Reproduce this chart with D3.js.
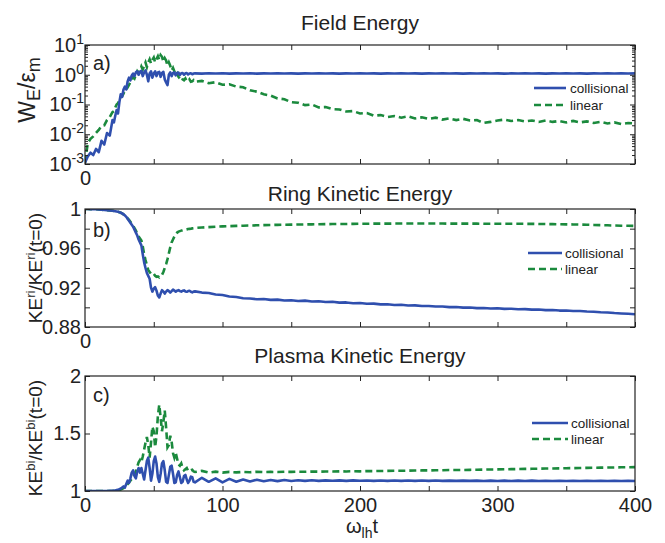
<!DOCTYPE html>
<html>
<head>
<meta charset="utf-8">
<script src="https://cdn.jsdelivr.net/npm/d3@7"></script>
<style>
  html, body { margin: 0; padding: 0; background: #fff; }
  svg { display: block; font-family: "Liberation Sans", Arial, Helvetica, sans-serif; }
</style>
</head>
<body>
<svg id="chart" width="665" height="543"></svg>
<script>
// Simulation time, in units of the lower-hybrid period (omega_lh t)
const time = [0,2,4,6,8,10,12,14,16,18,20,
  21,22,23,24,25,26,27,28,29,30,31,32,33,34,35,36,37,38,39,40,
  41,42,43,44,45,46,47,48,49,50,51,52,53,54,55,56,57,58,59,60,
  61,62,63,64,65,66,67,68,69,70,71,72,73,74,75,76,77,78,79,80,
  85,90,95,100,105,110,115,120,125,130,135,140,145,150,155,160,165,170,175,180,
  185,190,195,200,205,210,215,220,225,230,235,240,245,250,255,260,265,270,275,280,
  285,290,295,300,305,310,315,320,325,330,335,340,345,350,355,360,365,370,375,380,
  385,390,395,400];

// a) field energy W_E / eps_m
const fieldCollisional = [0.0011,0.0018,0.0024,0.0020,0.0032,0.0025,0.0060,0.0045,0.0110,0.0090,0.0300,
  0.025,0.042,0.065,0.050,0.12,0.22,0.18,0.32,0.40,0.32,
  0.60,0.80,0.65,0.95,1.10,0.90,1.20,1.30,1.00,1.25,
  1.35,0.90,1.20,1.40,1.00,0.60,1.10,1.30,0.80,1.10,
  1.30,0.90,1.20,1.25,0.85,1.15,1.25,0.70,0.55,0.45,
  1.00,1.20,0.90,1.15,1.20,0.95,1.15,1.18,0.98,1.12,
  1.15,1.00,1.12,1.14,1.02,1.10,1.12,1.04,1.10,1.11,
  1.09,1.12,1.10,1.12,1.09,1.11,1.10,1.12,1.09,1.11,
  1.10,1.12,1.10,1.11,1.09,1.11,1.10,1.12,1.10,1.11,
  1.09,1.11,1.10,1.12,1.10,1.11,1.09,1.11,1.10,1.12,
  1.10,1.11,1.09,1.11,1.10,1.12,1.10,1.11,1.09,1.11,
  1.10,1.12,1.10,1.11,1.09,1.11,1.10,1.12,1.10,1.11,
  1.09,1.11,1.10,1.12,1.10,1.11,1.09,1.11,1.10,1.11,
  1.10,1.11,1.10,1.11];
const fieldLinear = [0.0011,0.0050,0.0070,0.0085,0.0110,0.0140,0.0190,0.0200,0.0300,0.0380,0.0550,
  0.060,0.080,0.100,0.110,0.140,0.170,0.190,0.230,0.300,0.320,
  0.380,0.460,0.550,0.680,0.850,0.750,1.000,1.300,1.100,1.400,
  1.900,1.500,2.000,2.600,1.800,2.600,3.300,2.400,3.200,3.800,
  2.600,3.400,4.200,3.200,4.600,4.000,2.800,3.600,3.000,2.000,
  2.600,2.000,1.400,1.700,1.300,0.950,1.100,0.850,0.750,0.850,
  0.700,0.650,0.750,0.620,0.600,0.700,0.580,0.600,0.660,0.580,
  0.62,0.52,0.56,0.46,0.48,0.40,0.38,0.30,0.27,0.22,
  0.20,0.16,0.15,0.12,0.115,0.095,0.10,0.08,0.082,0.07,
  0.068,0.058,0.06,0.05,0.052,0.042,0.044,0.038,0.041,0.036,
  0.04,0.034,0.037,0.033,0.036,0.031,0.034,0.030,0.033,0.029,
  0.030,0.024,0.026,0.029,0.031,0.028,0.030,0.027,0.029,0.026,
  0.029,0.026,0.028,0.025,0.028,0.025,0.027,0.024,0.026,0.023,
  0.025,0.022,0.024,0.023];

// b) ring ion kinetic energy, normalised to t = 0
const ringCollisional = [1.0000,1.0000,0.9999,0.9998,0.9997,0.9995,0.9993,0.9990,0.9988,0.9985,0.9982,
  0.9980,0.9978,0.9975,0.9972,0.9968,0.9962,0.9955,0.9945,0.9935,0.9920,
  0.9900,0.9880,0.9860,0.9840,0.9820,0.9790,0.9760,0.9730,0.9690,0.9660,
  0.9630,0.9540,0.9460,0.9400,0.9350,0.9320,0.9290,0.9200,0.9160,0.9190,
  0.9205,0.9170,0.9120,0.9100,0.9140,0.9175,0.9160,0.9140,0.9160,0.9175,
  0.9165,0.9150,0.9165,0.9180,0.9170,0.9160,0.9170,0.9175,0.9165,0.9160,
  0.9168,0.9172,0.9162,0.9158,0.9166,0.9168,0.9158,0.9152,0.9160,0.9162,
  0.9150,0.9145,0.9130,0.9125,0.9110,0.9105,0.9092,0.9090,0.9082,0.9084,
  0.9076,0.9078,0.9070,0.9072,0.9065,0.9068,0.9060,0.9062,0.9055,0.9056,
  0.9048,0.9050,0.9042,0.9044,0.9036,0.9038,0.9030,0.9031,0.9024,0.9026,
  0.9018,0.9020,0.9013,0.9014,0.9008,0.9009,0.9002,0.9003,0.8997,0.8998,
  0.8992,0.8993,0.8988,0.8990,0.8984,0.8986,0.8980,0.8982,0.8977,0.8978,
  0.8972,0.8973,0.8967,0.8968,0.8962,0.8963,0.8958,0.8955,0.8950,0.8948,
  0.8942,0.8938,0.8934,0.8930];
const ringLinear = [1.0000,1.0000,0.9999,0.9998,0.9997,0.9995,0.9993,0.9990,0.9988,0.9985,0.9982,
  0.9980,0.9978,0.9975,0.9972,0.9968,0.9962,0.9955,0.9945,0.9935,0.9925,
  0.9905,0.9890,0.9870,0.9850,0.9830,0.9805,0.9780,0.9750,0.9720,0.9700,
  0.9680,0.9620,0.9540,0.9480,0.9430,0.9380,0.9360,0.9340,0.9330,0.9340,
  0.9320,0.9310,0.9315,0.9305,0.9320,0.9330,0.9360,0.9400,0.9440,0.9490,
  0.9550,0.9610,0.9660,0.9690,0.9720,0.9745,0.9760,0.9770,0.9775,0.9780,
  0.9785,0.9788,0.9790,0.9793,0.9796,0.9798,0.9800,0.9803,0.9805,0.9807,
  0.9812,0.9816,0.9820,0.9823,0.9826,0.9828,0.9830,0.9832,0.9834,0.9836,
  0.9837,0.9839,0.9840,0.9841,0.9842,0.9843,0.9844,0.9845,0.9846,0.9847,
  0.9848,0.9848,0.9849,0.9850,0.9850,0.9851,0.9851,0.9851,0.9852,0.9852,
  0.9852,0.9852,0.9852,0.9852,0.9852,0.9852,0.9851,0.9851,0.9851,0.9851,
  0.9851,0.9850,0.9850,0.9850,0.9850,0.9850,0.9850,0.9849,0.9849,0.9848,
  0.9847,0.9846,0.9845,0.9844,0.9843,0.9842,0.9840,0.9838,0.9836,0.9834,
  0.9832,0.9830,0.9829,0.9828];

// c) background plasma ion kinetic energy, normalised to t = 0
const plasmaCollisional = [1,1,1,1,1,1,1,1,1,1.001,1.002,
  1.003,1.005,1.008,1.010,1.015,1.022,1.030,1.040,1.030,1.060,
  1.090,1.070,1.110,1.160,1.180,1.130,1.110,1.170,1.200,1.160,
  1.200,1.150,1.100,1.180,1.260,1.290,1.200,1.090,1.150,1.260,
  1.300,1.240,1.120,1.080,1.150,1.240,1.260,1.180,1.080,1.070,
  1.140,1.210,1.220,1.150,1.070,1.075,1.140,1.170,1.120,1.070,
  1.080,1.130,1.140,1.100,1.070,1.090,1.125,1.120,1.080,1.075,
  1.115,1.080,1.110,1.075,1.105,1.080,1.100,1.082,1.098,1.085,
  1.096,1.086,1.095,1.087,1.093,1.088,1.093,1.088,1.092,1.089,
  1.092,1.088,1.092,1.089,1.091,1.088,1.091,1.088,1.091,1.088,
  1.091,1.088,1.091,1.088,1.091,1.088,1.090,1.088,1.090,1.088,
  1.090,1.087,1.090,1.087,1.090,1.087,1.090,1.087,1.090,1.087,
  1.089,1.087,1.089,1.087,1.089,1.087,1.089,1.087,1.089,1.087,
  1.089,1.087,1.088,1.087];
const plasmaLinear = [1,1,1,1,1,1,1,1,1,1,1.001,
  1.002,1.003,1.004,1.006,1.008,1.012,1.018,1.025,1.035,1.045,
  1.060,1.075,1.090,1.105,1.120,1.150,1.170,1.210,1.250,1.270,
  1.250,1.300,1.360,1.420,1.470,1.400,1.290,1.420,1.560,1.520,
  1.380,1.480,1.650,1.750,1.640,1.520,1.600,1.700,1.550,1.380,
  1.400,1.480,1.430,1.330,1.290,1.330,1.280,1.230,1.220,1.240,
  1.200,1.180,1.190,1.200,1.175,1.170,1.180,1.185,1.170,1.165,
  1.175,1.160,1.168,1.160,1.166,1.162,1.166,1.163,1.167,1.165,
  1.166,1.165,1.167,1.166,1.168,1.167,1.169,1.168,1.170,1.169,
  1.171,1.170,1.172,1.171,1.173,1.173,1.174,1.175,1.176,1.176,
  1.177,1.178,1.179,1.179,1.180,1.181,1.182,1.182,1.183,1.184,
  1.185,1.186,1.187,1.188,1.189,1.190,1.191,1.192,1.193,1.194,
  1.195,1.196,1.197,1.198,1.199,1.200,1.201,1.202,1.203,1.204,
  1.205,1.206,1.207,1.208];

// Tick values and labels
const xTicks = [0,50,100,150,200,250,300,350,400];
const xTickLabels = ["0","","100","","200","","300","","400"];
const xTickLabelsTopPanels = ["0","","","","","","","",""];
const fieldTicks = [1e-3,1e-2,1e-1,1,10];
const fieldExponents = ["-3","-2","-1","0","1"];
const ringTicks = [0.88,0.90,0.92,0.94,0.96,0.98,1.0];
const ringTickLabels = ["0.88","","0.92","","0.96","","1"];
const plasmaTicks = [1,1.5,2];
const plasmaTickLabels = ["1","1.5","2"];
const seriesNames = ["collisional","linear"];

const BLUE = "#2f4fae";
const GREEN = "#1b8a3d";
const INK = "#222";

const svg = d3.select("#chart");
const x = d3.scaleLinear().domain([0, 400]).range([85, 635]);

function labelFromList(values, labels) {
  return v => { const i = values.findIndex(u => Math.abs(u - v) < 1e-9); return i < 0 ? "" : labels[i]; };
}

function drawPanel(p) {
  const g = svg.append("g");
  const y = p.y;
  const [top, bottom] = [p.top, p.bottom];

  // title
  svg.append("text").attr("x", 360).attr("y", p.titleY).attr("text-anchor", "middle")
    .attr("font-size", 21).attr("fill", INK).text(p.title);

  // clip region for the data
  const clipId = "clip-" + p.key;
  svg.append("clipPath").attr("id", clipId).append("rect")
    .attr("x", 85).attr("y", top).attr("width", 550).attr("height", bottom - top);

  const line = d3.line().x((d, i) => x(time[i])).y(d => y(d));
  const plot = g.append("g").attr("clip-path", `url(#${clipId})`);
  plot.append("path").datum(p.lin).attr("d", line).attr("fill", "none")
    .attr("stroke", GREEN).attr("stroke-width", 2.6).attr("stroke-dasharray", "7,4");
  plot.append("path").datum(p.coll).attr("d", line).attr("fill", "none")
    .attr("stroke", BLUE).attr("stroke-width", 2.6).attr("stroke-linejoin", "round");

  // axes with inward ticks on all four sides
  const axisStyle = sel => {
    sel.select(".domain").remove();
    sel.selectAll(".tick line").attr("stroke", INK).attr("stroke-width", 1);
    sel.selectAll("text").attr("font-size", 20).attr("fill", INK)
      .attr("font-family", '"Liberation Sans", Arial, sans-serif');
  };
  g.append("g").attr("transform", `translate(0,${bottom})`)
    .call(d3.axisBottom(x).tickValues(xTicks).tickSize(-5).tickPadding(7)
      .tickFormat(labelFromList(xTicks, p.xLabels)))
    .call(axisStyle);
  g.append("g").attr("transform", `translate(0,${top})`)
    .call(d3.axisTop(x).tickValues(xTicks).tickSize(-5).tickFormat(""))
    .call(axisStyle);

  const left = g.append("g").attr("transform", "translate(85,0)")
    .call(d3.axisLeft(y).tickValues(p.yTicks).tickSize(-5).tickPadding(p.yPad)
      .tickFormat(p.yFormat))
    .call(axisStyle);
  g.append("g").attr("transform", "translate(635,0)")
    .call(d3.axisRight(y).tickValues(p.yTicks).tickSize(-5).tickFormat(""))
    .call(axisStyle);

  if (p.minor) {
    g.append("g").attr("transform", "translate(85,0)")
      .call(d3.axisLeft(y).tickValues(p.minor).tickSize(-3).tickFormat(""))
      .call(axisStyle);
    g.append("g").attr("transform", "translate(635,0)")
      .call(d3.axisRight(y).tickValues(p.minor).tickSize(-3).tickFormat(""))
      .call(axisStyle);
  }
  if (p.after) p.after(left);

  // frame
  g.append("rect").attr("x", 85).attr("y", top).attr("width", 550).attr("height", bottom - top)
    .attr("fill", "none").attr("stroke", INK).attr("stroke-width", 1.2);

  // panel tag
  svg.append("text").attr("x", 93).attr("y", p.tagY).attr("font-size", 20).attr("fill", INK).text(p.tag);

  // legend
  const L = p.legend;
  [[BLUE, null, L.y1], [GREEN, "7,4", L.y2]].forEach(([c, dash, ly], i) => {
    const ln = svg.append("line").attr("x1", L.x1).attr("x2", L.x2).attr("y1", ly).attr("y2", ly)
      .attr("stroke", c).attr("stroke-width", 2.6);
    if (dash) ln.attr("stroke-dasharray", dash);
    svg.append("text").attr("x", L.tx).attr("y", ly + 4.5).attr("font-size", 13.5).attr("fill", INK)
      .text(seriesNames[i]);
  });

  // y label (rotated)
  const yl = svg.append("text").attr("transform", `translate(${p.ylabel.x},${p.ylabel.y}) rotate(-90)`)
    .attr("text-anchor", "middle").attr("font-size", p.ylabel.size).attr("fill", INK);
  const small = p.ylabel.size * (p.ylabel.scriptScale || 0.7);
  p.ylabel.parts.forEach(([s, kind]) => {
    const t = yl.append("tspan").text(s);
    if (kind === "sub") t.attr("font-size", small).attr("dy", 5);
    if (kind === "sup") t.attr("font-size", small).attr("dy", -7);
    if (kind === "back-sub") t.attr("dy", -5);
    if (kind === "back-sup") t.attr("dy", 7);
  });
}

// a) Field energy, logarithmic axis
const fieldY = d3.scaleLog().domain([1e-3, 10]).range([164, 45]);
const fieldMinor = [];
fieldTicks.slice(0, -1).forEach(d => [2,3,4,5,6,7,8,9].forEach(m => fieldMinor.push(d * m)));
drawPanel({
  key: "a", top: 45, bottom: 164, y: fieldY, title: "Field Energy", titleY: 30,
  coll: fieldCollisional, lin: fieldLinear, xLabels: xTickLabelsTopPanels,
  yTicks: fieldTicks, yPad: 1, yFormat: () => "", minor: fieldMinor,
  after: left => {
    left.selectAll(".tick text").each(function(d, i) {
      const t = d3.select(this);
      t.append("tspan").text("10");
      t.append("tspan").attr("dy", -8).attr("font-size", 14).text(fieldExponents[i]);
    });
  },
  tag: "a)", tagY: 70,
  legend: { x1: 534, x2: 566, tx: 570, y1: 88, y2: 105 },
  ylabel: { x: 35, y: 90, size: 23, scriptScale: 0.78,
    parts: [["W"], ["E", "sub"], ["/", "back-sub"], ["\u03b5"], ["m", "sub"]] }
});

// b) Ring kinetic energy
drawPanel({
  key: "b", top: 209, bottom: 327, y: d3.scaleLinear().domain([0.88, 1.0]).range([327, 209]),
  title: "Ring Kinetic Energy", titleY: 201,
  coll: ringCollisional, lin: ringLinear, xLabels: xTickLabelsTopPanels,
  yTicks: ringTicks, yPad: 4, yFormat: labelFromList(ringTicks, ringTickLabels),
  tag: "b)", tagY: 237,
  legend: { x1: 528, x2: 562, tx: 565, y1: 253, y2: 269 },
  ylabel: { x: 42, y: 268, size: 19,
    parts: [["KE"], ["ri", "sup"], ["/KE", "back-sup"], ["ri", "sup"], ["(t=0)", "back-sup"]] }
});

// c) Plasma kinetic energy
drawPanel({
  key: "c", top: 376, bottom: 491, y: d3.scaleLinear().domain([1, 2]).range([491, 376]),
  title: "Plasma Kinetic Energy", titleY: 363,
  coll: plasmaCollisional, lin: plasmaLinear, xLabels: xTickLabels,
  yTicks: plasmaTicks, yPad: 4, yFormat: labelFromList(plasmaTicks, plasmaTickLabels),
  tag: "c)", tagY: 402,
  legend: { x1: 532, x2: 568, tx: 571, y1: 423, y2: 439 },
  ylabel: { x: 42, y: 438, size: 19,
    parts: [["KE"], ["bi", "sup"], ["/KE", "back-sup"], ["bi", "sup"], ["(t=0)", "back-sup"]] }
});

// x axis label: omega_lh t
const xl = svg.append("text").attr("x", 362).attr("y", 533).attr("text-anchor", "middle")
  .attr("font-size", 20).attr("fill", INK);
xl.append("tspan").text("\u03c9");
xl.append("tspan").attr("font-size", 14).attr("dy", 5).text("lh");
xl.append("tspan").attr("dy", -5).text("t");
</script>
</body>
</html>
